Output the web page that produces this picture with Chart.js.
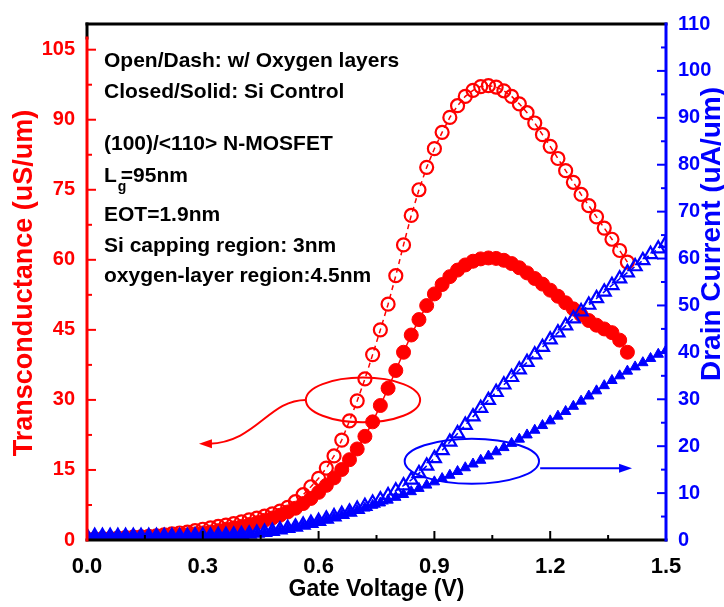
<!DOCTYPE html>
<html>
<head>
<meta charset="utf-8">
<script src="https://cdn.jsdelivr.net/npm/chart.js@4.4.0/dist/chart.umd.min.js"></script>
<style>
  html, body { margin: 0; padding: 0; background: #fff; }
  #wrap { width: 724px; height: 607px; }
</style>
</head>
<body>
<div id="wrap"><canvas id="chart" width="724" height="607"></canvas></div>
<script>
// Gate voltage sweep (V)
const gateV = [
  0.00, 0.02, 0.04, 0.06, 0.08, 0.10, 0.12, 0.14, 0.16, 0.18,
  0.20, 0.22, 0.24, 0.26, 0.28, 0.30, 0.32, 0.34, 0.36, 0.38,
  0.40, 0.42, 0.44, 0.46, 0.48, 0.50, 0.52, 0.54, 0.56, 0.58,
  0.60, 0.62, 0.64, 0.66, 0.68, 0.70, 0.72, 0.74, 0.76, 0.78,
  0.80, 0.82, 0.84, 0.86, 0.88, 0.90, 0.92, 0.94, 0.96, 0.98,
  1.00, 1.02, 1.04, 1.06, 1.08, 1.10, 1.12, 1.14, 1.16, 1.18,
  1.20, 1.22, 1.24, 1.26, 1.28, 1.30, 1.32, 1.34, 1.36, 1.38,
  1.40, 1.42, 1.44, 1.46, 1.48, 1.50
];

// Transconductance (uS/um), 0 .. 1.40 V
const gmOxygen = [
  0.2, 0.2, 0.3, 0.3, 0.4, 0.5, 0.6, 0.7, 0.8, 0.9,
  1.1, 1.3, 1.5, 1.7, 2.0, 2.3, 2.6, 2.9, 3.2, 3.5,
  3.9, 4.3, 4.7, 5.1, 5.6, 6.2, 7.0, 8.2, 9.7, 11.4,
  13.2, 15.4, 18.0, 21.4, 25.5, 29.8, 34.5, 39.7, 45.0, 50.5,
  56.6, 63.2, 69.5, 75.0, 79.8, 83.8, 87.3, 90.5, 93.0, 95.0,
  96.3, 97.1, 97.3, 97.0, 96.2, 95.0, 93.4, 91.5, 89.3, 86.8,
  84.3, 81.7, 79.1, 76.6, 74.0, 71.6, 69.2, 66.8, 64.4, 62.0,
  59.5
];
const gmControl = [
  0.1, 0.1, 0.2, 0.2, 0.2, 0.3, 0.3, 0.4, 0.5, 0.6,
  0.7, 0.8, 1.0, 1.1, 1.3, 1.5, 1.7, 2.0, 2.3, 2.6,
  2.9, 3.3, 3.7, 4.2, 4.7, 5.3, 6.0, 6.8, 7.8, 8.9,
  10.2, 11.7, 13.3, 15.1, 17.2, 19.5, 22.2, 25.3, 28.8, 32.5,
  36.3, 40.2, 43.9, 47.2, 50.2, 52.7, 54.7, 56.4, 57.8, 58.9,
  59.7, 60.2, 60.4, 60.3, 59.9, 59.2, 58.3, 57.2, 56.0, 54.8,
  53.5, 52.2, 50.8, 49.5, 48.2, 47.0, 46.0, 45.2, 44.4, 42.8,
  40.2
];

// Drain current (uA/um), 0 .. 1.50 V
const idOxygen = [
  0.8, 0.8, 0.8, 0.8, 0.8, 0.8, 0.8, 0.8, 0.8, 0.8,
  0.8, 0.8, 0.8, 0.8, 0.9, 0.9, 0.9, 1.0, 1.0, 1.1,
  1.2, 1.3, 1.5, 1.7, 1.9, 2.2, 2.5, 2.8, 3.2, 3.6,
  4.0, 4.5, 5.0, 5.5, 6.0, 6.6, 7.2, 7.9, 8.6, 9.5,
  10.5, 11.6, 12.8, 14.2, 15.8, 17.4, 19.1, 20.9, 22.7, 24.5,
  26.3, 28.1, 29.8, 31.5, 33.1, 34.7, 36.3, 37.9, 39.5, 41.1,
  42.7, 44.2, 45.7, 47.2, 48.7, 50.1, 51.5, 52.9, 54.3, 55.7,
  57.0, 58.3, 59.6, 60.9, 62.1, 63.3
];
const idControl = [
  0.8, 0.8, 0.8, 0.8, 0.8, 0.8, 0.8, 0.8, 0.8, 0.8,
  0.8, 0.8, 0.8, 0.8, 0.8, 0.9, 0.9, 0.9, 1.0, 1.0,
  1.1, 1.2, 1.4, 1.6, 1.8, 2.1, 2.4, 2.7, 3.1, 3.5,
  3.9, 4.3, 4.8, 5.3, 5.8, 6.3, 6.8, 7.4, 7.9, 8.5,
  9.1, 9.7, 10.3, 11.0, 11.7, 12.4, 13.1, 13.8, 14.6, 15.4,
  16.2, 17.0, 17.9, 18.8, 19.7, 20.6, 21.5, 22.4, 23.4, 24.4,
  25.4, 26.4, 27.4, 28.5, 29.6, 30.7, 31.8, 32.9, 34.0, 35.0,
  36.0, 36.9, 37.8, 38.7, 39.6, 40.4
];

// axis ticks
const xTicks = [0.0, 0.3, 0.6, 0.9, 1.2, 1.5];
const gmTicks = [0, 15, 30, 45, 60, 75, 90, 105];
const idTicks = [0, 10, 20, 30, 40, 50, 60, 70, 80, 90, 100, 110];

const noteLines = [
  "Open/Dash: w/ Oxygen layers",
  "Closed/Solid: Si Control",
  "(100)/<110> N-MOSFET",
  "L|g|=95nm",
  "EOT=1.9nm",
  "Si capping region: 3nm",
  "oxygen-layer region:4.5nm"
];

const RED = "#ff0000";
const BLUE = "#0000ff";
const FONT = "'Liberation Sans', Arial, sans-serif";

function pairs(ys) {
  return ys.map((y, i) => ({ x: gateV[i], y: y }));
}

// frame, inward ticks, titles, notes and the two callouts
const overlay = {
  id: "overlay",
  afterDraw(chart) {
    const ctx = chart.ctx;
    const a = chart.chartArea;
    const sx = chart.scales.x, sl = chart.scales.yL, sr = chart.scales.yR;

    function seg(x1, y1, x2, y2) {
      ctx.beginPath();
      ctx.moveTo(x1, y1);
      ctx.lineTo(x2, y2);
      ctx.stroke();
    }
    function arrowHead(x, y, dir) {
      ctx.beginPath();
      ctx.moveTo(x, y);
      ctx.lineTo(x - dir * 13, y - 4.5);
      ctx.lineTo(x - dir * 13, y + 4.5);
      ctx.closePath();
      ctx.fill();
    }

    ctx.save();
    // ticks
    ctx.lineWidth = 2;
    ctx.strokeStyle = "#000";
    for (let i = 0; i < xTicks.length; i++) {
      const px = sx.getPixelForValue(xTicks[i]);
      seg(px, a.bottom, px, a.bottom - 9);
      if (i < xTicks.length - 1) {
        const pm = sx.getPixelForValue((xTicks[i] + xTicks[i + 1]) / 2);
        seg(pm, a.bottom, pm, a.bottom - 5);
      }
    }
    ctx.strokeStyle = RED;
    for (let i = 0; i < gmTicks.length; i++) {
      const py = sl.getPixelForValue(gmTicks[i]);
      seg(a.left, py, a.left + 9, py);
      const pm = sl.getPixelForValue(gmTicks[i] + 7.5);
      if (gmTicks[i] + 7.5 < 107.5) seg(a.left, pm, a.left + 5, pm);
    }
    ctx.strokeStyle = BLUE;
    for (let i = 0; i < idTicks.length; i++) {
      const py = sr.getPixelForValue(idTicks[i]);
      seg(a.right, py, a.right - 9, py);
      if (idTicks[i] + 5 < 110) {
        const pm = sr.getPixelForValue(idTicks[i] + 5);
        seg(a.right, pm, a.right - 5, pm);
      }
    }

    // frame
    ctx.lineWidth = 3;
    ctx.lineCap = "square";
    const redTop = sl.getPixelForValue(107.5);
    ctx.strokeStyle = "#000";
    seg(a.left, a.top, a.right, a.top);
    seg(a.left, a.bottom, a.right, a.bottom);
    seg(a.left, a.top, a.left, redTop);
    ctx.strokeStyle = RED;
    seg(a.left, a.bottom, a.left, redTop);
    ctx.strokeStyle = BLUE;
    seg(a.right, a.top, a.right, a.bottom);

    // red callout -> left axis
    ctx.lineWidth = 2;
    ctx.lineCap = "butt";
    ctx.strokeStyle = RED;
    ctx.fillStyle = RED;
    const rcx = sx.getPixelForValue(0.715), rcy = sl.getPixelForValue(30);
    const rrx = sx.getPixelForValue(0.715 + 0.148) - rcx;
    const rry = sl.getPixelForValue(30) - sl.getPixelForValue(34.8);
    ctx.beginPath();
    ctx.ellipse(rcx, rcy, rrx, rry, 0, 0, Math.PI * 2);
    ctx.stroke();
    const tipX = sx.getPixelForValue(0.29), tipY = sl.getPixelForValue(20.6);
    ctx.beginPath();
    ctx.moveTo(rcx - rrx, rcy);
    ctx.bezierCurveTo(sx.getPixelForValue(0.47), rcy,
      sx.getPixelForValue(0.44), sl.getPixelForValue(21),
      tipX + 10, tipY);
    ctx.stroke();
    arrowHead(tipX, tipY, -1);

    // blue callout -> right axis
    ctx.strokeStyle = BLUE;
    ctx.fillStyle = BLUE;
    const bcx = sx.getPixelForValue(0.997), bcy = sr.getPixelForValue(16.8);
    const brx = sx.getPixelForValue(0.997 + 0.174) - bcx;
    const bry = sr.getPixelForValue(16.8) - sr.getPixelForValue(21.6);
    ctx.beginPath();
    ctx.ellipse(bcx, bcy, brx, bry, 0, 0, Math.PI * 2);
    ctx.stroke();
    const ay = sr.getPixelForValue(15.3);
    const ax2 = sx.getPixelForValue(1.412);
    seg(sx.getPixelForValue(1.174), ay, ax2 - 10, ay);
    arrowHead(ax2, ay, 1);

    // notes
    ctx.fillStyle = "#000";
    ctx.textAlign = "left";
    ctx.textBaseline = "alphabetic";
    const baselines = [67, 98, 150, 182, 221, 252, 282];
    const tx = 104;
    noteLines.forEach((line, i) => {
      ctx.font = "bold 21px " + FONT;
      if (line.indexOf("|") >= 0) {
        const parts = line.split("|");
        ctx.fillText(parts[0], tx, baselines[i]);
        const w0 = ctx.measureText(parts[0]).width;
        ctx.font = "bold 14px " + FONT;
        ctx.fillText(parts[1], tx + w0 + 1, baselines[i] + 9);
        ctx.font = "bold 21px " + FONT;
        ctx.fillText(parts[2], tx + w0 + 4, baselines[i]);
      } else {
        ctx.fillText(line, tx, baselines[i]);
      }
    });

    // axis titles
    ctx.textAlign = "center";
    ctx.textBaseline = "middle";
    ctx.font = "bold 23px " + FONT;
    ctx.fillStyle = "#000";
    ctx.fillText("Gate Voltage (V)", (a.left + a.right) / 2, 590);

    ctx.font = "bold 27px " + FONT;
    ctx.fillStyle = RED;
    ctx.save();
    ctx.translate(25, 283);
    ctx.rotate(-Math.PI / 2);
    ctx.fillText("Transconductance (uS/um)", 0, 0);
    ctx.restore();

    ctx.font = "bold 28px " + FONT;
    ctx.fillStyle = BLUE;
    ctx.save();
    ctx.translate(712, 234);
    ctx.rotate(-Math.PI / 2);
    ctx.fillText("Drain Current (uA/um)", 0, 0);
    ctx.restore();

    ctx.restore();
  }
};

const ctx = document.getElementById("chart").getContext("2d");
new Chart(ctx, {
  type: "line",
  data: {
    datasets: [
      {
        label: "Id oxygen",
        data: pairs(idOxygen),
        yAxisID: "yR",
        borderColor: BLUE,
        borderWidth: 1.5,
        borderDash: [5, 4],
        pointStyle: "triangle",
        pointRadius: 7.5,
        pointBorderWidth: 2.2,
        pointBorderColor: BLUE,
        pointBackgroundColor: "rgba(0,0,0,0)",
        fill: false
      },
      {
        label: "Id control",
        data: pairs(idControl),
        yAxisID: "yR",
        borderColor: BLUE,
        borderWidth: 1.5,
        pointStyle: "triangle",
        pointRadius: 6,
        pointBorderWidth: 1,
        pointBorderColor: BLUE,
        pointBackgroundColor: BLUE,
        fill: false
      },
      {
        label: "gm oxygen",
        data: pairs(gmOxygen),
        yAxisID: "yL",
        borderColor: RED,
        borderWidth: 1.5,
        borderDash: [5, 4],
        pointStyle: "circle",
        pointRadius: 6.5,
        pointBorderWidth: 2.2,
        pointBorderColor: RED,
        pointBackgroundColor: "rgba(0,0,0,0)",
        fill: false
      },
      {
        label: "gm control",
        data: pairs(gmControl),
        yAxisID: "yL",
        borderColor: RED,
        borderWidth: 1.5,
        pointStyle: "circle",
        pointRadius: 7,
        pointBorderWidth: 1,
        pointBorderColor: RED,
        pointBackgroundColor: RED,
        fill: false
      }
    ]
  },
  options: {
    responsive: false,
    animation: false,
    layout: { padding: { top: 16, left: 0, right: 0, bottom: 0 } },
    plugins: {
      legend: { display: false },
      tooltip: { enabled: false }
    },
    scales: {
      x: {
        type: "linear",
        position: "bottom",
        min: 0,
        max: 1.5,
        grid: { display: false, drawTicks: false },
        border: { display: false },
        afterBuildTicks: (s) => { s.ticks = xTicks.map((v) => ({ value: v })); },
        afterFit: (s) => { s.height = 67; },
        ticks: {
          color: "#000",
          padding: 14,
          font: { family: FONT, size: 22, weight: "bold" },
          callback: (v) => Number(v).toFixed(1)
        }
      },
      yL: {
        type: "linear",
        position: "left",
        min: 0,
        max: 110.5,
        grid: { display: false, drawTicks: false },
        border: { display: false },
        afterBuildTicks: (s) => { s.ticks = gmTicks.map((v) => ({ value: v })); },
        afterFit: (s) => { s.width = 87; },
        ticks: {
          color: RED,
          padding: 12,
          font: { family: FONT, size: 20, weight: "bold" }
        }
      },
      yR: {
        type: "linear",
        position: "right",
        min: 0,
        max: 110,
        grid: { display: false, drawTicks: false },
        border: { display: false },
        afterBuildTicks: (s) => { s.ticks = idTicks.map((v) => ({ value: v })); },
        afterFit: (s) => { s.width = 58; },
        ticks: {
          color: BLUE,
          padding: 12,
          font: { family: FONT, size: 20, weight: "bold" }
        }
      }
    }
  },
  plugins: [overlay]
});
</script>
</body>
</html>
